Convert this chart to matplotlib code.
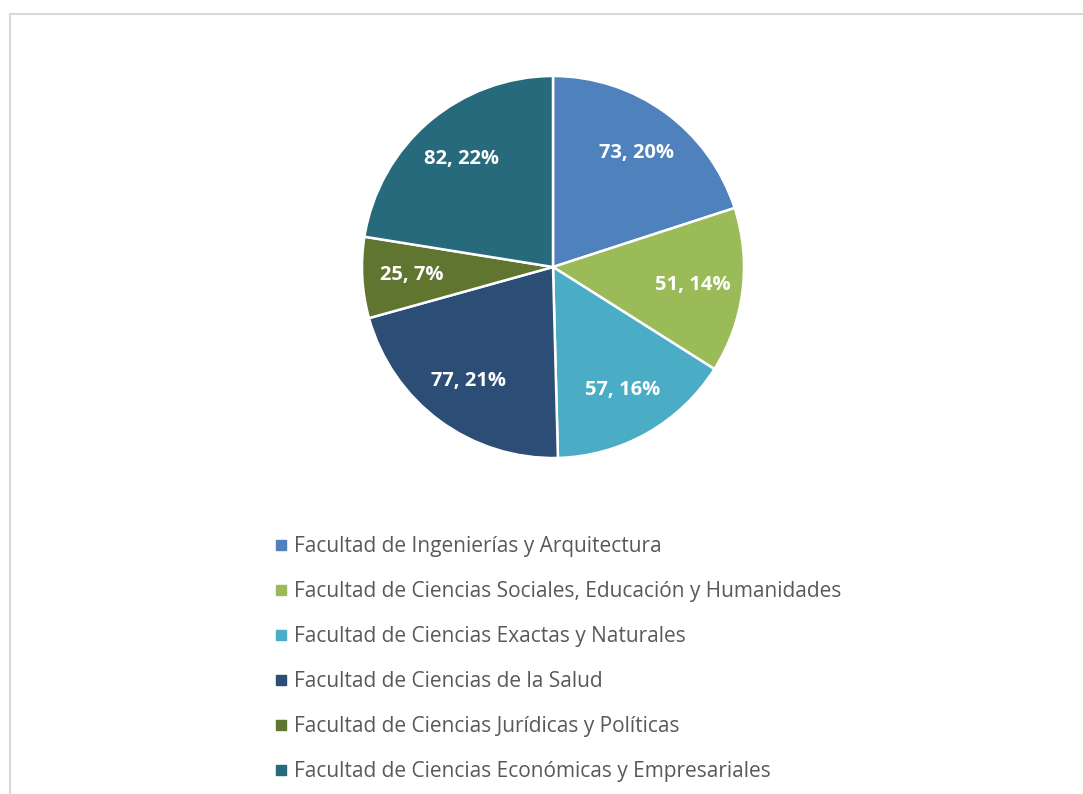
import matplotlib.pyplot as plt
from matplotlib.lines import Line2D
from matplotlib.patches import Rectangle

faculties = [
    "Facultad de Ingenierías y Arquitectura",
    "Facultad de Ciencias Sociales, Educación y Humanidades",
    "Facultad de Ciencias Exactas y Naturales",
    "Facultad de Ciencias de la Salud",
    "Facultad de Ciencias Jurídicas y Políticas",
    "Facultad de Ciencias Económicas y Empresariales",
]
counts = [73, 51, 57, 77, 25, 82]
colors = ["#4F81BD", "#9BBB59", "#4BACC6", "#2C4D75", "#5F7530", "#276A7C"]

plt.rcParams['font.family'] = ['Open Sans', 'DejaVu Sans']

W, H = 1083, 794
fig = plt.figure(figsize=(W / 100, H / 100), dpi=100)

# light gray chart frame (cut off at right and bottom)
fig.patches.append(Rectangle((10 / W, -0.05), 1.1, 1.05 - 13.5 / H,
                             transform=fig.transFigure, fill=False,
                             edgecolor="#d9d9d9", lw=1.5))

cx, cy, r = 553, 267, 191
ax = fig.add_axes([(cx - r) / W, 1 - (cy + r) / H, 2 * r / W, 2 * r / H])
total = sum(counts)

def fmt(p):
    v = int(round(p * total / 100))
    return f"{v}, {p:.0f}%"

wedges, _, autotexts = ax.pie(counts, colors=colors, startangle=90, counterclock=False,
                              autopct=fmt, pctdistance=0.74,
                              wedgeprops=dict(edgecolor="white", linewidth=1.8),
                              textprops=dict(color="white", fontsize=14.5, fontweight="bold"))
ax.set_xlim(-1, 1)
ax.set_ylim(-1, 1)

handles = [Line2D([], [], marker='s', linestyle='', color=c, markersize=6.5) for c in colors]
leg = fig.legend(handles, faculties, loc='upper left', bbox_to_anchor=(276 / W, 1 - 536 / H),
                 frameon=False, fontsize=15, labelcolor="#595959", handlelength=0.5,
                 handletextpad=0.35, labelspacing=1.15, borderpad=0, borderaxespad=0)

fig.savefig("out.png", dpi=100)
